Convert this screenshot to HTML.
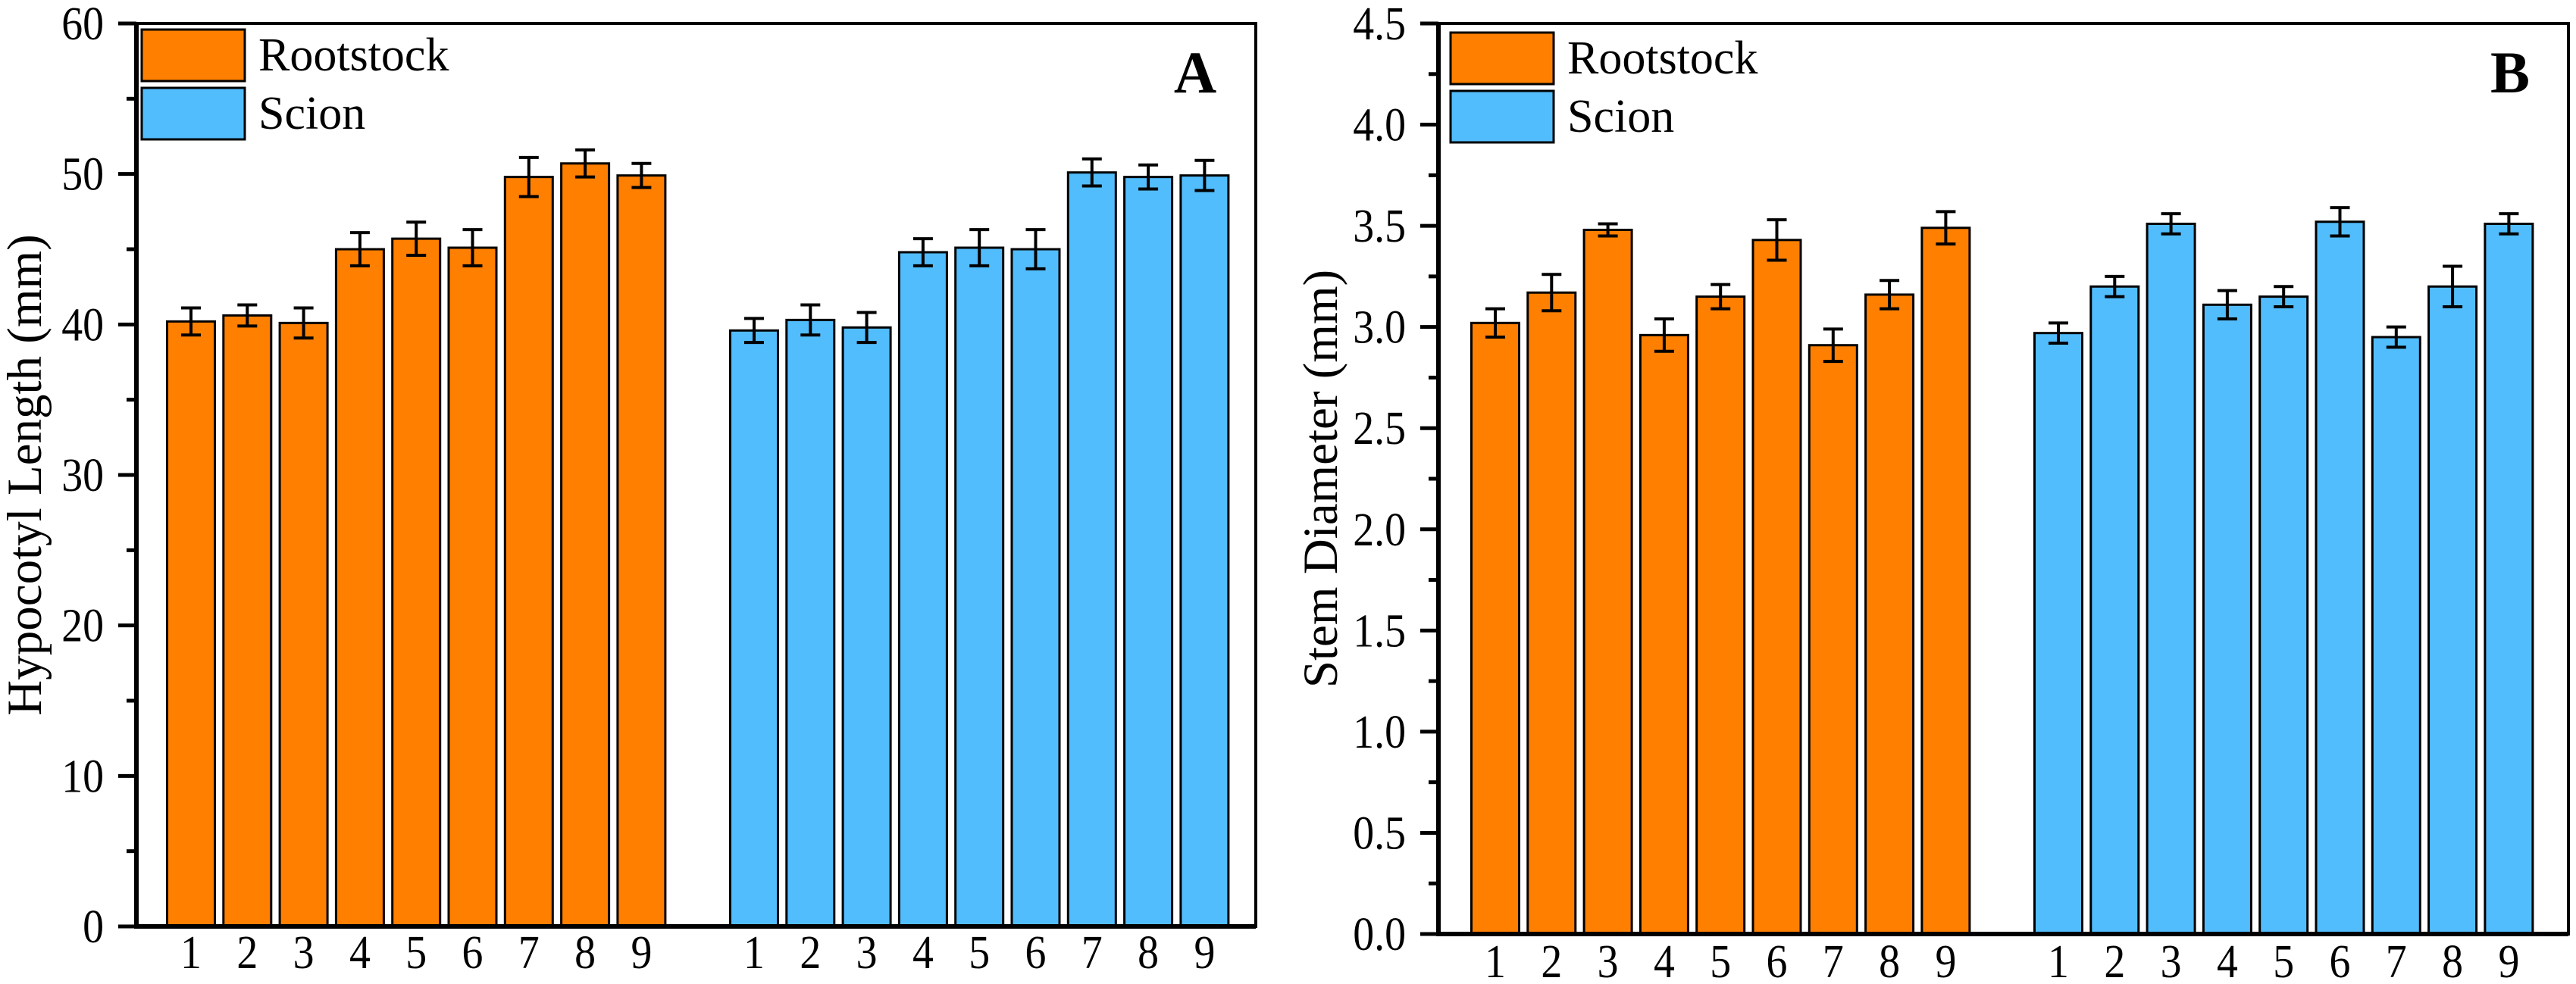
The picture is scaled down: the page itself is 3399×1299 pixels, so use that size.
<!DOCTYPE html>
<html><head><meta charset="utf-8"><style>
html,body{margin:0;padding:0;background:#fff;}
svg{display:block;}
text{font-family:"Liberation Serif","DejaVu Serif",serif;}
</style></head><body>
<svg id="chart" width="3399" height="1299" viewBox="0 0 3399 1299" xmlns="http://www.w3.org/2000/svg" font-family="Liberation Serif, DejaVu Serif, serif"></svg>
<script>
const categories = ["1","2","3","4","5","6","7","8","9"];
const hypRoot = [40.2,40.6,40.1,45.0,45.7,45.1,49.8,50.7,49.9];
const hypRootErr = [0.9,0.7,1.0,1.1,1.1,1.2,1.3,0.9,0.8];
const hypScion = [39.6,40.3,39.8,44.8,45.1,45.0,50.1,49.8,49.9];
const hypScionErr = [0.8,1.0,1.0,0.9,1.2,1.3,0.9,0.8,1.0];
const stemRoot = [3.02,3.17,3.48,2.96,3.15,3.43,2.91,3.16,3.49];
const stemRootErr = [0.07,0.09,0.03,0.08,0.06,0.10,0.08,0.07,0.08];
const stemScion = [2.97,3.20,3.51,3.11,3.15,3.52,2.95,3.20,3.51];
const stemScionErr = [0.05,0.05,0.05,0.07,0.05,0.07,0.05,0.10,0.05];
const hypTicks = ["0","10","20","30","40","50","60"];
const stemTicks = ["0.0","0.5","1.0","1.5","2.0","2.5","3.0","3.5","4.0","4.5"];
const seriesNames = ["Rootstock","Scion"];

const NS="http://www.w3.org/2000/svg";
const svg=document.getElementById('chart');
function mk(tag,attrs,parent){const e=document.createElementNS(NS,tag);for(const k in attrs)e.setAttribute(k,attrs[k]);(parent||svg).appendChild(e);return e;}
const COLORS=["#FF7F00","#52BDFD"];
const FF="Liberation Serif, DejaVu Serif, serif";

function panel(cfg){
  const g=mk('g',{});
  
  
  const {L,R,T,B,ymax,slot,c0,bw}=cfg;
  const y=v=>B-(v/ymax)*(B-T);
  const x=(grp,i)=>c0+(i+grp*10)*slot;
  [[cfg.s1,cfg.e1],[cfg.s2,cfg.e2]].forEach((pair,grp)=>{
    pair[0].forEach((v,i)=>{
      const cx=x(grp,i);
      const r=mk('rect',{x:cx-bw/2,y:y(v),width:bw,height:B-y(v),fill:COLORS[grp],stroke:"#000","stroke-width":3},g);
      
      
      const e=pair[1][i];
      const eb=mk('path',{d:`M${cx} ${y(v+e)}V${y(v-e)}M${cx-13} ${y(v+e)}H${cx+13}M${cx-13} ${y(v-e)}H${cx+13}`,stroke:"#000","stroke-width":4,fill:"none"},g);
      
      
      const t=mk('text',{x:cx,y:cfg.xlabY,"font-size":62,"font-family":FF,"text-anchor":"middle",transform:`translate(${cx} 0) scale(0.9 1) translate(${-cx} 0)`},g);
      t.textContent=categories[i];
      
      
    });
  });
  const fr=mk('rect',{x:L,y:T,width:R-L,height:B-T,fill:"none",stroke:"#000","stroke-width":4},g);
  
  
  const ax=mk('path',{d:`M${L} ${T}V${B}H${R}`,stroke:"#000","stroke-width":6,fill:"none"},g);
  
  
  const n=cfg.ticks.length;
  cfg.ticks.forEach((lab,k)=>{
    const v=ymax*k/(n-1);
    const ty=y(v);
    mk('line',{x1:L-24,x2:L,y1:ty,y2:ty,stroke:"#000","stroke-width":5},g);
    const tx=L-43;
    const t=mk('text',{x:tx,y:ty+21,"font-size":62,"font-family":FF,"text-anchor":"end",transform:`translate(${tx} 0) scale(0.9 1) translate(${-tx} 0)`},g);
    t.textContent=lab;
    
    
    if(k<n-1){const my=y(v+ymax/(n-1)/2);mk('line',{x1:L-13,x2:L,y1:my,y2:my,stroke:"#000","stroke-width":5},g);}
  });
  const cy=(T+B)/2, tx=cfg.titleX;
  const yt=mk('text',{x:tx,y:cy,"font-size":65,"font-family":FF,"text-anchor":"middle",transform:`rotate(-90 ${tx} ${cy})`},g);
  yt.textContent=cfg.title;
  
  
  seriesNames.forEach((s,k)=>{
    const ly=cfg.legY+k*77;
    const sw=mk('rect',{x:cfg.legX,y:ly,width:136,height:68,fill:COLORS[k],stroke:"#000","stroke-width":3},g);
    
    
    const lx=cfg.legX+154;
    const t=mk('text',{x:lx,y:ly+54,"font-size":62,"font-family":FF},g);
    t.textContent=s;
    
    
  });
  const pl=mk('text',{x:cfg.letterX,y:122,"font-size":78,"font-weight":"bold","font-family":FF,"text-anchor":"middle"},g);
  pl.textContent=cfg.letter;
  
  
}
panel({name:'panel-a-hypocotyl',L:180,R:1657,T:31,B:1223,ymax:60,slot:74.3,c0:252,bw:63,xlabY:1278,
  legX:187,legY:39,letterX:1577,
  s1:hypRoot,e1:hypRootErr,s2:hypScion,e2:hypScionErr,ticks:hypTicks,title:"Hypocotyl Length (mm)",titleX:54,letter:"A"});
panel({name:'panel-b-stem',L:1898,R:3389,T:31,B:1233,ymax:4.5,slot:74.3,c0:1973,bw:63,xlabY:1290,
  legX:1914,legY:43,letterX:3312,
  s1:stemRoot,e1:stemRootErr,s2:stemScion,e2:stemScionErr,ticks:stemTicks,title:"Stem Diameter (mm)",titleX:1764,letter:"B"});
</script>
</body></html>
